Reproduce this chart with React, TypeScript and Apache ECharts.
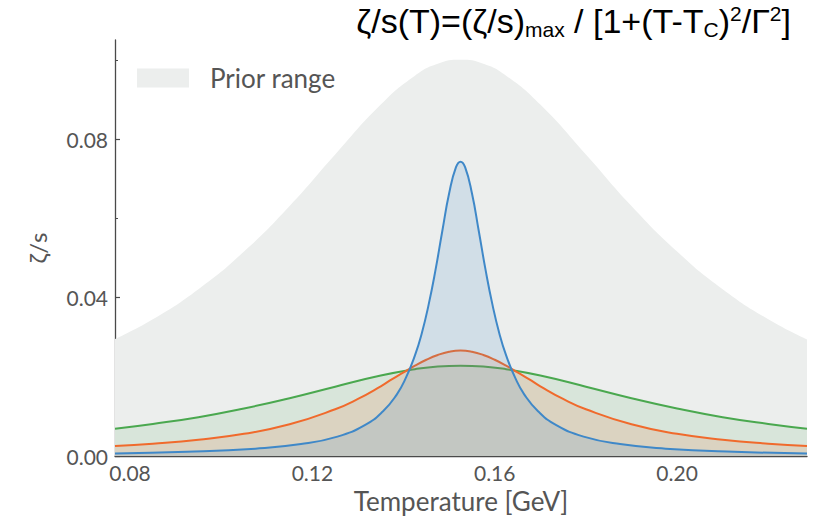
import React, { useEffect, useRef } from "react";
import * as echarts from "echarts";

// Temperature samples [GeV] for the broad curves
const T_BROAD = [0.0767, 0.085, 0.095, 0.105, 0.115, 0.125, 0.135, 0.1425, 0.1475, 0.1525, 0.1575, 0.1625, 0.17, 0.18, 0.19, 0.2, 0.21, 0.22, 0.2285];
// Upper edge of the prior range
const PRIOR_MAX = [0.0295, 0.0345, 0.0421, 0.0516, 0.0631, 0.0761, 0.0887, 0.096, 0.099, 0.1, 0.099, 0.096, 0.0887, 0.0761, 0.0631, 0.0516, 0.0421, 0.0345, 0.0294];
// Green curve
const GREEN_ZS = [0.0069, 0.0081, 0.0098, 0.012, 0.0146, 0.0175, 0.0203, 0.0219, 0.0226, 0.0228, 0.0226, 0.0219, 0.0203, 0.0175, 0.0146, 0.012, 0.0098, 0.0081, 0.0069];
// Orange curve
const T_ORANGE = [0.0767, 0.085, 0.095, 0.105, 0.115, 0.125, 0.13, 0.135, 0.1375, 0.14, 0.1425, 0.145, 0.1475, 0.15, 0.1525, 0.155, 0.1575, 0.16, 0.1625, 0.165, 0.1675, 0.17, 0.175, 0.18, 0.19, 0.2, 0.21, 0.22, 0.2285];
const ORANGE_ZS = [0.0025, 0.0031, 0.0041, 0.0056, 0.008, 0.0118, 0.0144, 0.0176, 0.0194, 0.0211, 0.0228, 0.0243, 0.0255, 0.0263, 0.0266, 0.0263, 0.0255, 0.0243, 0.0228, 0.0211, 0.0194, 0.0176, 0.0144, 0.0118, 0.008, 0.0056, 0.0041, 0.0031, 0.0025];
// Blue (narrow) curve
const T_BLUE = [0.0767, 0.0925, 0.1075, 0.1175, 0.1255, 0.1315, 0.1355, 0.1385, 0.1405, 0.1425, 0.144, 0.1455, 0.147, 0.1485, 0.15, 0.1515, 0.1525, 0.1535, 0.155, 0.1565, 0.158, 0.1595, 0.161, 0.1625, 0.1645, 0.1665, 0.1695, 0.1735, 0.1795, 0.1875, 0.1975, 0.2125, 0.2285];
const BLUE_ZS = [0.00066, 0.00106, 0.00186, 0.0030, 0.0049, 0.0078, 0.0113, 0.0155, 0.0197, 0.0254, 0.031, 0.0382, 0.0469, 0.0568, 0.0663, 0.0729, 0.0743, 0.0729, 0.0663, 0.0568, 0.0469, 0.0382, 0.031, 0.0254, 0.0197, 0.0155, 0.0113, 0.0078, 0.0049, 0.0030, 0.00186, 0.00106, 0.00066];

const X_MAJOR = [0.08, 0.12, 0.16, 0.2];
const X_MINOR = [0.1, 0.14, 0.18, 0.22];
const Y_MAJOR = [0, 0.04, 0.08];
const Y_MINOR = [0.02, 0.06, 0.1];
const X_RANGE = [0.0767, 0.2285];
const Y_RANGE = [0, 0.105];

const LEGEND_LABEL = "Prior range";
const X_NAME = "Temperature [GeV]";
const Y_NAME = "ζ/s";

const pairs = (xs: number[], ys: number[]) => xs.map((x, i) => [x, ys[i]]);

const FONT = "Lato";
const GRAY = "#555555";
const AXIS = "#4a4a4a";

export default function App() {
  const ref = useRef<HTMLDivElement>(null);
  useEffect(() => {
    if (!ref.current) return;
    const chart = echarts.init(ref.current, undefined, { renderer: "svg" });
    const mkArea = (name: string, xs: number[], ys: number[], color: string, alpha: number, z: number) => ({
      name,
      type: "line",
      data: pairs(xs, ys),
      showSymbol: false,
      smooth: 0.5,
      lineStyle: { color, width: 2 },
      itemStyle: { color },
      areaStyle: { color, opacity: alpha },
      z,
      xAxisIndex: 0,
      yAxisIndex: 0,
    });
    const T = { fontFamily: "Liberation Sans", color: "#000", fontWeight: "normal" as const };
    chart.setOption({
      animation: false,
      title: {
        text: "{a|ζ/s(T)=(ζ/s)}{sub|max}{a| / [1+(T-T}{sub|C}{a|)}{sup|2}{a|/Γ}{sup|2}{a|]}",
        right: 24,
        top: -7,
        textStyle: {
          fontWeight: "normal",
          rich: {
            a: { ...T, fontSize: 34, lineHeight: 46, verticalAlign: "middle" },
            sub: { ...T, fontSize: 21, lineHeight: 21, verticalAlign: "bottom", padding: [0, 0, 4, 0] },
            sup: { ...T, fontSize: 21, lineHeight: 21, verticalAlign: "top", padding: [5, 0, 0, 0] },
          },
        },
      },
      legend: {
        left: 137,
        top: 65,
        padding: 0,
        itemWidth: 52,
        itemHeight: 19,
        data: [{ name: LEGEND_LABEL, icon: "rect", itemStyle: { color: "#eceeed" } }],
        textStyle: { fontFamily: FONT, fontSize: 26, color: GRAY, padding: [0, 0, 0, 16] },
      },
      grid: { left: 115, right: 13, top: 40, bottom: 65, containLabel: false },
      xAxis: [
        {
          type: "value",
          min: X_RANGE[0],
          max: X_RANGE[1],
          name: X_NAME,
          nameLocation: "middle",
          nameGap: 32,
          nameTextStyle: { fontFamily: FONT, fontSize: 26, color: GRAY },
          axisLine: { show: true, onZero: false, lineStyle: { color: AXIS, width: 1.3 } },
          axisTick: { show: true, inside: true, length: 6, customValues: X_MAJOR, lineStyle: { color: AXIS, width: 1.2 } },
          axisLabel: { customValues: X_MAJOR, fontFamily: FONT, fontSize: 21, color: GRAY, margin: 6, formatter: (v: number) => v.toFixed(2) },
          splitLine: { show: false },
        },
        {
          type: "value",
          min: X_RANGE[0],
          max: X_RANGE[1],
          position: "bottom",
          axisLine: { show: false, onZero: false },
          axisTick: { show: true, inside: true, length: 4, customValues: X_MINOR, lineStyle: { color: AXIS, width: 1 } },
          axisLabel: { show: false },
          splitLine: { show: false },
        },
      ],
      yAxis: [
        {
          type: "value",
          min: Y_RANGE[0],
          max: Y_RANGE[1],
          name: Y_NAME,
          nameLocation: "middle",
          nameGap: 66,
          nameRotate: 90,
          nameTextStyle: { fontFamily: FONT, fontSize: 24, color: GRAY },
          axisLine: { show: true, onZero: false, lineStyle: { color: AXIS, width: 1.3 } },
          axisTick: { show: true, inside: true, length: 5, customValues: Y_MAJOR, lineStyle: { color: AXIS, width: 1.2 } },
          axisLabel: { customValues: Y_MAJOR, fontFamily: FONT, fontSize: 21, color: GRAY, margin: 7, formatter: (v: number) => v.toFixed(2) },
          splitLine: { show: false },
        },
        {
          type: "value",
          min: Y_RANGE[0],
          max: Y_RANGE[1],
          position: "left",
          axisLine: { show: false, onZero: false },
          axisTick: { show: true, inside: true, length: 3, customValues: Y_MINOR, lineStyle: { color: AXIS, width: 1 } },
          axisLabel: { show: false },
          splitLine: { show: false },
        },
      ],
      series: [
        {
          name: LEGEND_LABEL,
          type: "line",
          data: pairs(T_BROAD, PRIOR_MAX),
          showSymbol: false,
          smooth: 0.5,
          lineStyle: { width: 0, color: "#eceeed" },
          itemStyle: { color: "#eceeed" },
          areaStyle: { color: "#eceeed", opacity: 1 },
          z: 1,
        },
        mkArea("green", T_BROAD, GREEN_ZS, "#4aa84f", 0.12, 2),
        mkArea("orange", T_ORANGE, ORANGE_ZS, "#f06a2c", 0.14, 3),
        mkArea("blue", T_BLUE, BLUE_ZS, "#3f88c8", 0.15, 4),
      ],
    });
    return () => chart.dispose();
  }, []);
  return <div ref={ref} style={{ position: "fixed", left: 0, top: 0, width: 820, height: 521, background: "#fff" }} />;
}
